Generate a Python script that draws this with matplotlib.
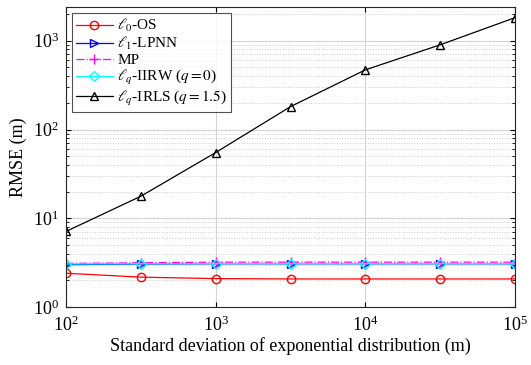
import matplotlib
matplotlib.use('Agg')
import matplotlib.pyplot as plt
from matplotlib.ticker import LogLocator, NullFormatter

plt.rcParams['font.family'] = ['Liberation Serif', 'DejaVu Serif']
plt.rcParams['mathtext.fontset'] = 'stix'

sigma = [1e2, 10**2.5, 1e3, 10**3.5, 1e4, 10**4.5, 1e5]
l0_os = [2.40, 2.17, 2.09, 2.07, 2.07, 2.07, 2.07]
l1_lpnn = [3.00, 3.05, 3.07, 3.07, 3.07, 3.07, 3.07]
mp = [3.10, 3.15, 3.20, 3.20, 3.20, 3.20, 3.20]
lq_iirw = [3.05, 3.07, 3.08, 3.08, 3.08, 3.08, 3.08]
lq_irls = [7.1, 17.7, 55, 181, 470, 900, 1820]

labels = [r'$\ell_0$-OS', r'$\ell_1$-LPNN', 'MP',
          r'$\ell_q$-IIRW ($q=0$)', r'$\ell_q$-IRLS ($q=1.5$)']

fig = plt.figure(figsize=(5.31, 3.65), dpi=100)
ax = fig.add_axes([0.1243, 0.1589, 0.8456, 0.8219])

ax.plot(sigma, l0_os, '-o', color='red', mfc='none', ms=6, lw=0.9, label=labels[0])
ax.plot(sigma, l1_lpnn, '->', color='blue', mfc='none', ms=6, lw=0.9, label=labels[1])
ax.plot(sigma, mp, '-.+', color='magenta', ms=7, lw=0.9, label=labels[2])
ax.plot(sigma, lq_iirw, '-D', color='cyan', mfc='none', ms=5, lw=0.9, label=labels[3])
ax.plot(sigma, lq_irls, '-^', color='black', mfc='none', ms=6, lw=0.9, label=labels[4])

ax.set_xscale('log')
ax.set_yscale('log')
ax.set_xlim(1e2, 1e5)
ax.set_ylim(1, 2400)
ax.xaxis.set_minor_locator(LogLocator(base=10, subs=[]))
ax.xaxis.set_minor_formatter(NullFormatter())
ax.yaxis.set_minor_locator(LogLocator(base=10, subs=range(2, 10)))
ax.yaxis.set_minor_formatter(NullFormatter())

ax.grid(True, which='major', color='#d4d4d4', lw=0.8)
ax.grid(True, which='minor', axis='y', color='#cccccc', lw=0.7, ls=':')
ax.set_axisbelow(True)
ax.tick_params(which='both', direction='in', top=True, right=True, labelsize=13)
ax.tick_params(axis='x', pad=6)
ax.tick_params(axis='y', pad=5)
ax.tick_params(which='minor', length=2)
for s in ax.spines.values():
    s.set_color('#262626')

ax.set_xlabel('Standard deviation of exponential distribution (m)', fontsize=13, labelpad=2)
ax.set_ylabel('RMSE (m)', fontsize=13)

leg = ax.legend(loc='upper left', fontsize=11, frameon=True, fancybox=False,
                edgecolor='#262626', borderpad=0.25, labelspacing=0.08,
                handlelength=2.4, handletextpad=0.3, borderaxespad=0.4)
leg.get_frame().set_linewidth(0.8)

fig.savefig('out.png', dpi=100)
